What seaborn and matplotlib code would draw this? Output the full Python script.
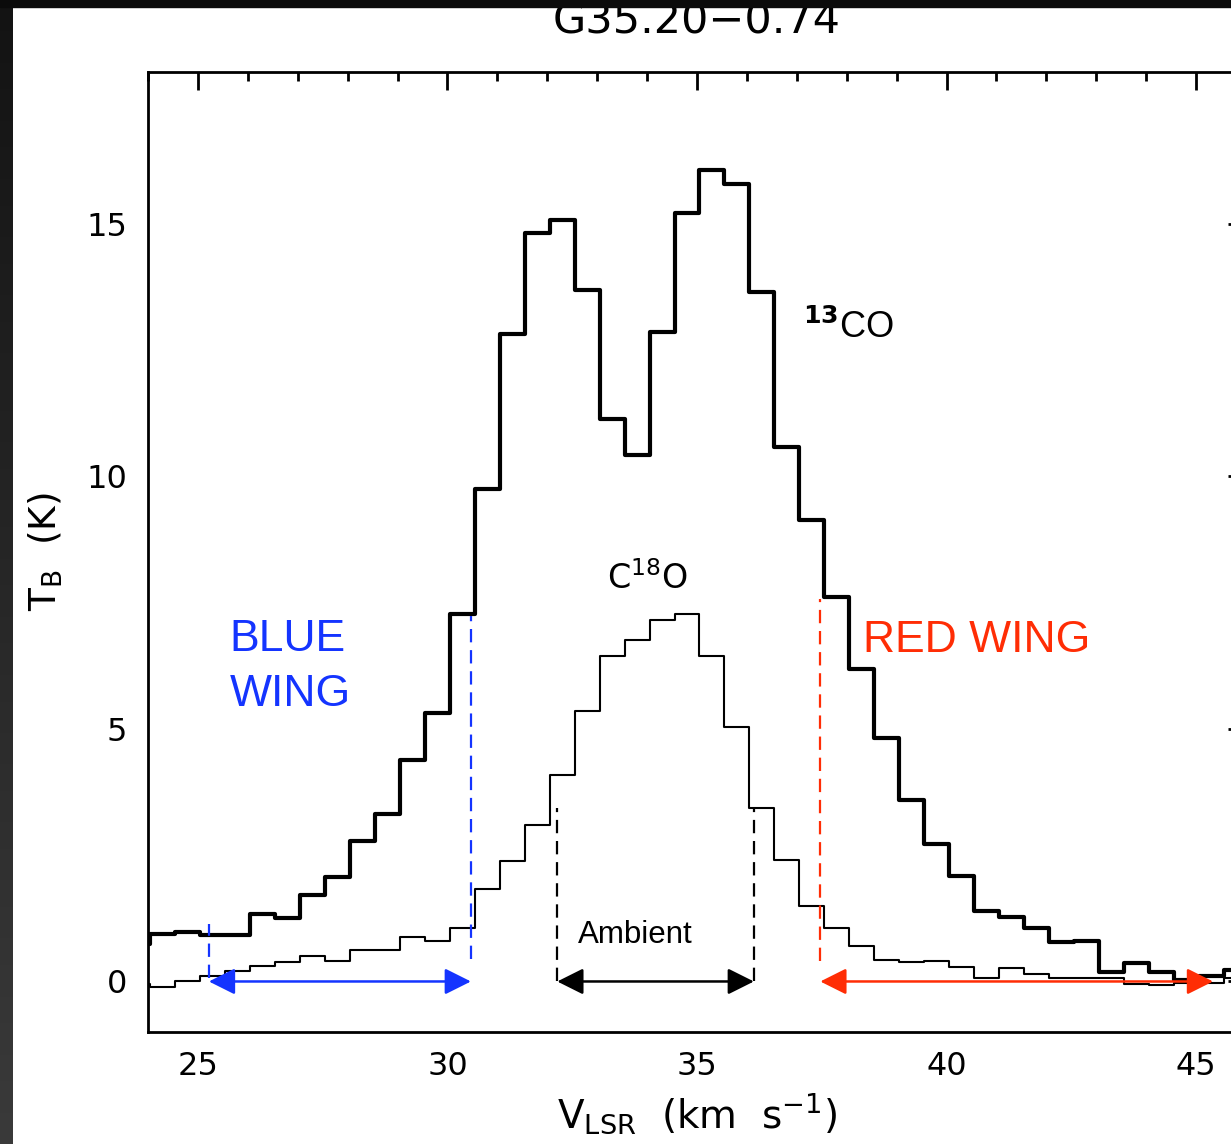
import numpy as np
import pandas as pd
import matplotlib
matplotlib.use("Agg")
import matplotlib.pyplot as plt
from matplotlib.patches import Rectangle
from matplotlib.colors import LinearSegmentedColormap
from matplotlib.ticker import MultipleLocator
import seaborn as sns

# channel centres in km/s (0.5 km/s channels)
velocity = [23.8, 24.3, 24.8, 25.3, 25.8, 26.3, 26.8, 27.3, 27.8, 28.3,
            28.8, 29.3, 29.8, 30.3, 30.8, 31.3, 31.8, 32.3, 32.8, 33.3,
            33.8, 34.3, 34.8, 35.3, 35.8, 36.3, 36.8, 37.3, 37.8, 38.3,
            38.8, 39.3, 39.8, 40.3, 40.8, 41.3, 41.8, 42.3, 42.8, 43.3,
            43.8, 44.3, 44.8, 45.3, 45.8]

tb_13co = [0.75, 0.94, 0.98, 0.92, 0.91, 1.33, 1.26, 1.72, 2.06, 2.79,
           3.32, 4.38, 5.32, 7.27, 9.75, 12.82, 14.81, 15.08, 13.68, 11.13,
           10.41, 12.85, 15.20, 16.07, 15.78, 13.64, 10.58, 9.13, 7.60, 6.18,
           4.82, 3.59, 2.72, 2.08, 1.40, 1.27, 1.06, 0.79, 0.81, 0.18,
           0.36, 0.18, 0.03, 0.10, 0.23]

tb_c18o = [-0.05, -0.10, 0.00, 0.10, 0.21, 0.31, 0.38, 0.50, 0.41, 0.63,
           0.63, 0.89, 0.81, 1.05, 1.84, 2.38, 3.09, 4.08, 5.35, 6.44,
           6.75, 7.15, 7.28, 6.44, 5.03, 3.43, 2.40, 1.50, 1.06, 0.71,
           0.42, 0.38, 0.41, 0.28, 0.07, 0.26, 0.15, 0.07, 0.07, 0.07,
           -0.05, -0.07, -0.03, -0.03, 0.07]

# velocity ranges (km/s) and heights of the marker lines (K)
blue_wing = (25.22, 30.47)
blue_tops = (1.14, 7.23)
ambient = (32.2, 36.14)
ambient_top = 3.43
red_wing = (37.47, 45.34)
red_top = 7.57

BLUE = "#1434ff"
RED = "#ff2d05"

sns.set_style("white")
plt.rcParams["font.family"] = ["DejaVu Sans"]
plt.rcParams["mathtext.fontset"] = "dejavusans"
for k in ["text.color", "axes.labelcolor", "xtick.color", "ytick.color", "axes.edgecolor"]:
    plt.rcParams[k] = "black"

df = pd.DataFrame({"v": velocity, "13co": tb_13co, "c18o": tb_c18o})

W, H = 1231, 1144
fig = plt.figure(figsize=(W / 100, H / 100), dpi=100)
fig.patch.set_facecolor("white")
ax = fig.add_axes([148 / W, (H - 1032) / H, 1098 / W, 960 / H])

sns.lineplot(data=df, x="v", y="13co", ax=ax, color="black", lw=3.0,
             drawstyle="steps-mid", estimator=None, sort=True)
sns.lineplot(data=df, x="v", y="c18o", ax=ax, color="black", lw=1.5,
             drawstyle="steps-mid", estimator=None, sort=True)

ax.set_xlim(24, 46)
ax.set_ylim(-1, 18)

dash = (0, (6, 3.5))
ax.plot([blue_wing[0]] * 2, [0.06, blue_tops[0]], color=BLUE, lw=1.6, ls=dash)
ax.plot([blue_wing[1]] * 2, [0.44, blue_tops[1]], color=BLUE, lw=1.6, ls=dash)
ax.plot([ambient[0]] * 2, [0.0, ambient_top], color="black", lw=1.6, ls=dash)
ax.plot([ambient[1]] * 2, [0.0, ambient_top], color="black", lw=1.6, ls=dash)
ax.plot([red_wing[0]] * 2, [0.4, red_top], color=RED, lw=1.6, ls=dash)


def range_arrow(x0, x1, color):
    ax.annotate("", xy=(x1, 0), xytext=(x0, 0),
                arrowprops=dict(arrowstyle="<|-|>,head_length=0.8,head_width=0.4",
                                color=color, lw=1.8, mutation_scale=20,
                                shrinkA=0, shrinkB=0))


range_arrow(*blue_wing, BLUE)
range_arrow(*ambient, "black")
range_arrow(*red_wing, RED)

ax.text(37.13, 12.73, r"$^{\mathbf{13}}$CO", fontsize=26, family="Liberation Sans",
        va="baseline", ha="left")
ax.text(34.0, 7.77, r"C$^{18}$O", fontsize=24, va="baseline", ha="center")
ax.text(25.64, 6.54, "BLUE", fontsize=32, color=BLUE, family="Liberation Sans",
        va="baseline", ha="left")
ax.text(25.64, 5.45, "WING", fontsize=32, color=BLUE, family="Liberation Sans",
        va="baseline", ha="left")
ax.text(38.33, 6.52, "RED WING", fontsize=32, color=RED, family="Liberation Sans",
        va="baseline", ha="left")
ax.text(32.62, 0.76, "Ambient", fontsize=22.5, family="Liberation Sans",
        va="baseline", ha="left")

ax.xaxis.set_major_locator(MultipleLocator(5))
ax.xaxis.set_minor_locator(MultipleLocator(1))
ax.yaxis.set_major_locator(MultipleLocator(5))
ax.yaxis.set_minor_locator(MultipleLocator(1))
ax.tick_params(which="both", direction="in", top=True, right=True,
               width=2, labelsize=23, color="black", labelcolor="black")
ax.tick_params(which="major", length=13)
ax.tick_params(which="minor", length=6.5)
ax.tick_params(axis="x", pad=14)
ax.tick_params(axis="y", pad=15)
for s in ax.spines.values():
    s.set_linewidth(2)
    s.set_color("black")

ax.set_xlabel(r"V$_{\rm LSR}$  (km  s$^{-1}$)", fontsize=28)
ax.set_ylabel(r"T$_{\rm B}$  (K)", fontsize=27)
ax.xaxis.set_label_coords(0.5, -0.062)
ax.yaxis.set_label_coords(-0.076, 0.5)
ax.set_title("G35.20\u22120.74", fontsize=31, pad=28)

# dark frame around the slide
grad = fig.add_axes([0, 0, 13 / W, 1], zorder=10)
cmap = LinearSegmentedColormap.from_list("frame", ["#131313", "#3a3a3a"])
grad.imshow(np.linspace(0, 1, 256).reshape(-1, 1), cmap=cmap, aspect="auto")
grad.axis("off")
fig.add_artist(Rectangle((0, 1 - 7 / H), 1, 7 / H, transform=fig.transFigure,
                         color="#0b0b0b", zorder=11))

fig.savefig("out.png", dpi=100)
